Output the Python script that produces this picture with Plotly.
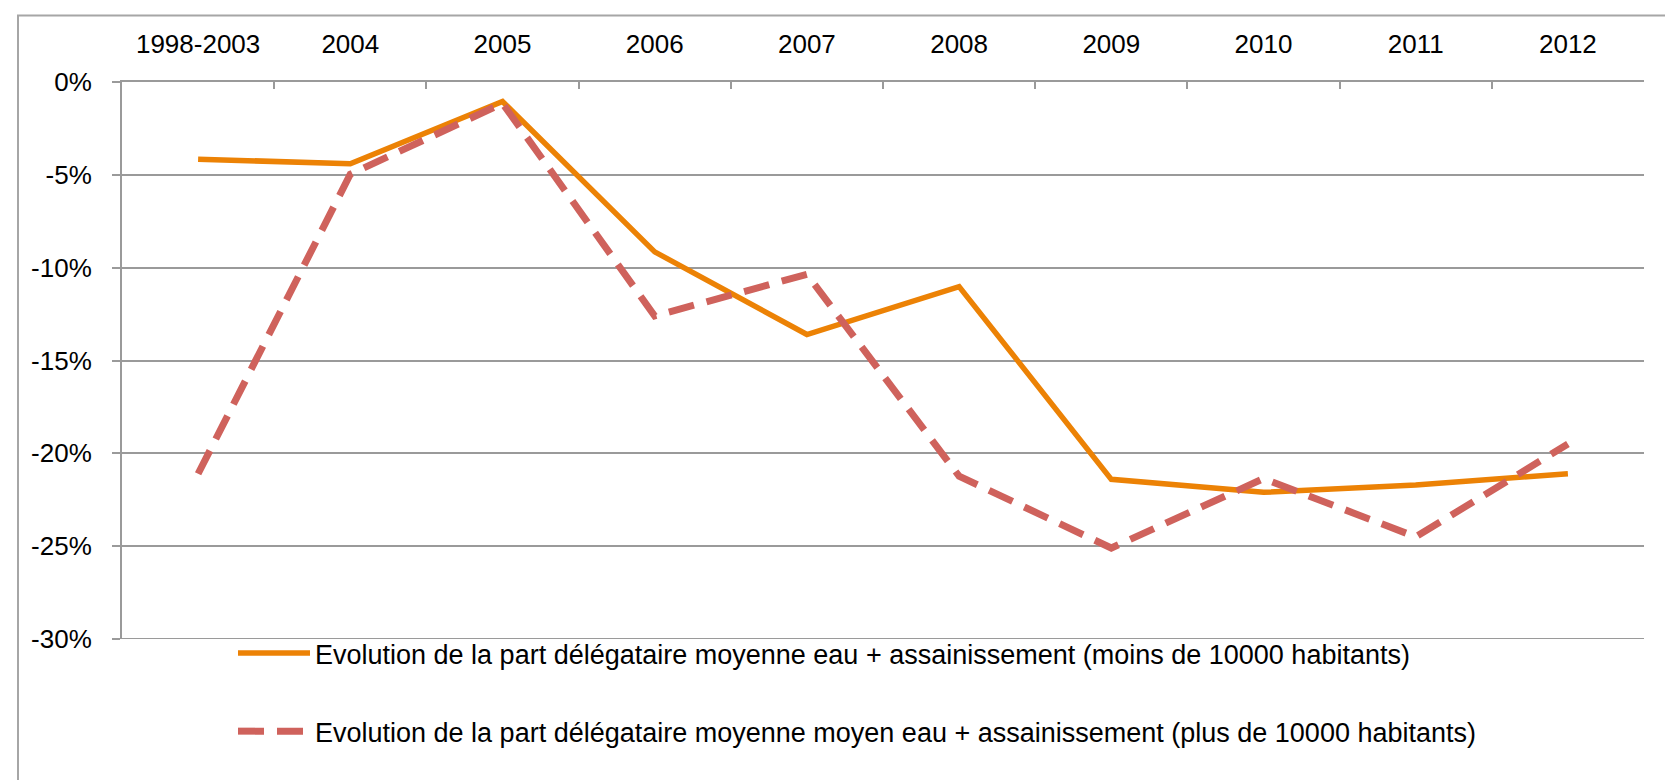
import plotly.graph_objects as go

categories = ["1998-2003", "2004", "2005", "2006", "2007", "2008", "2009", "2010", "2011", "2012"]
moins_10000 = [-4.16, -4.4, -1.05, -9.15, -13.6, -11.02, -21.4, -22.1, -21.7, -21.1]
plus_10000 = [-21.1, -4.97, -1.15, -12.6, -10.36, -21.23, -25.1, -21.36, -24.5, -19.5]
name_moins = "Evolution de la part délégataire moyenne eau + assainissement (moins de 10000 habitants)"
name_plus = "Evolution de la part délégataire moyenne moyen eau + assainissement (plus de 10000 habitants)"
y_tickvals = [0, -5, -10, -15, -20, -25, -30]
y_ticktext = ["0%", "-5%", "-10%", "-15%", "-20%", "-25%", "-30%"]

W, H = 1673, 780
L, R, T, B = 114, 1636, 74, 631
pw, ph = R - L, B - T

def px_x(x):
    return (x - L) / pw

def px_y(y):
    return (B - y) / ph

FONT = "Liberation Sans, Arial, sans-serif"
GRID = "#9a9a9a"

fig = go.Figure()
fig.add_trace(go.Scatter(
    x=categories, y=moins_10000, mode="lines", name=name_moins,
    legendgroup="a",
    line=dict(color="#EC8205", width=5.5),
))
fig.add_trace(go.Scatter(
    x=categories, y=plus_10000, mode="lines", name=name_plus,
    legendgroup="b",
    line=dict(color="#CF625C", width=7, dash="26px,13px"),
))

fig.update_layout(
    width=W, height=H,
    margin=dict(l=L, r=W - R, t=T, b=H - B, pad=0),
    paper_bgcolor="white", plot_bgcolor="white",
    font=dict(family=FONT, size=26, color="black"),
    showlegend=True,
    legend=dict(
        x=px_x(225), y=px_y(621), xanchor="left", yanchor="top",
        orientation="v", tracegroupgap=40, itemwidth=72,
        font=dict(family=FONT, size=27, color="black"),
        bgcolor="rgba(0,0,0,0)",
    ),
    shapes=[
        dict(
            type="rect", xref="paper", yref="paper",
            x0=px_x(10), x1=px_x(1671), y0=px_y(800), y1=px_y(7.5),
            line=dict(color="#a6a6a6", width=2), fillcolor="rgba(0,0,0,0)", layer="below",
        ),
        dict(
            type="line", xref="paper", yref="y",
            x0=0, x1=1, y0=y_tickvals[-1], y1=y_tickvals[-1],
            line=dict(color=GRID, width=2), layer="below",
        ),
    ],
)

fig.update_xaxes(
    type="category", side="top", showgrid=False,
    showline=True, linecolor=GRID, linewidth=2,
    ticks="inside", ticklen=7, tickwidth=2, tickcolor=GRID,
    tickson="boundaries", tickfont=dict(family=FONT, size=26, color="black"),
    ticklabelstandoff=17,
    range=[-0.5, len(categories) - 0.5], zeroline=False,
)
fig.update_yaxes(
    range=[-30, 0], tickvals=y_tickvals, ticktext=y_ticktext,
    showgrid=True, gridcolor=GRID, gridwidth=2,
    showline=True, linecolor=GRID, linewidth=2,
    ticks="outside", ticklen=8, tickwidth=2, tickcolor=GRID,
    ticklabelstandoff=15, zeroline=False,
    tickfont=dict(family=FONT, size=26, color="black"),
)

fig.write_html("out.html")
